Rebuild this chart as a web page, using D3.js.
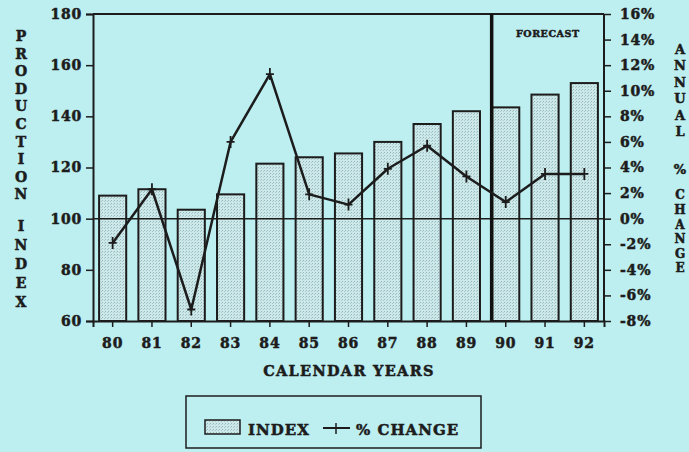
<!DOCTYPE html>
<html>
<head>
<meta charset="utf-8">
<script src="https://cdn.jsdelivr.net/npm/d3@7"></script>
<style>
  body { margin: 0; background: #bdeef0; }
  svg { display: block; }
  text { font-family: "DejaVu Serif", serif; font-weight: bold; fill: #1c1c1c;
         stroke: #1c1c1c; stroke-width: 0.5px; }
</style>
</head>
<body>
<script>
// chart values
var years = ["80", "81", "82", "83", "84", "85", "86", "87", "88", "89", "90", "91", "92"];
var indexValues = [109, 111.5, 103.5, 109.5, 121.5, 124, 125.5, 130, 137, 142, 143.5, 148.5, 153];
var pctChange = [-1.9, 2.3, -7.1, 6.0, 11.3, 1.9, 1.1, 3.9, 5.7, 3.3, 1.3, 3.5, 3.5];
var leftTicks = [60, 80, 100, 120, 140, 160, 180];
var rightTicks = [-8, -6, -4, -2, 0, 2, 4, 6, 8, 10, 12, 14, 16];
var forecastFrom = "90";

var width = 689, height = 452;
var margin = {top: 14, right: 85, bottom: 131, left: 93};
var plotW = width - margin.left - margin.right,
    plotH = height - margin.top - margin.bottom;

var svg = d3.select("body").append("svg")
    .attr("width", width)
    .attr("height", height)
    .style("background", "#bdeef0");

// stipple fill for the bars
var defs = svg.append("defs");
var pat = defs.append("pattern")
    .attr("id", "stip")
    .attr("width", 3).attr("height", 3)
    .attr("patternUnits", "userSpaceOnUse");
pat.append("rect").attr("width", 3).attr("height", 3).attr("fill", "#cde8e9");
pat.append("rect").attr("x", 0).attr("y", 0).attr("width", 1).attr("height", 1).attr("fill", "#93b9bc");
pat.append("rect").attr("x", 2).attr("y", 1).attr("width", 1).attr("height", 1).attr("fill", "#a9c9cb");

var g = svg.append("g")
    .attr("transform", "translate(" + margin.left + "," + margin.top + ")");

var x = d3.scaleBand()
    .domain(years)
    .range([0, plotW])
    .paddingInner(0.31)
    .paddingOuter(0.155);

var y = d3.scaleLinear().domain([60, 180]).range([plotH, 0]);
var y2 = d3.scaleLinear().domain([-8, 16]).range([plotH, 0]);

// bars
g.selectAll("rect.bar")
    .data(years)
    .enter()
    .append("rect")
    .attr("class", "bar")
    .attr("x", function(d) { return x(d); })
    .attr("y", function(d, i) { return y(indexValues[i]); })
    .attr("width", x.bandwidth())
    .attr("height", function(d, i) { return plotH - y(indexValues[i]); })
    .attr("fill", "url(#stip)")
    .attr("stroke", "#1c1c1c")
    .attr("stroke-width", 2);

// zero / 100 reference line
g.append("line")
    .attr("x1", 0).attr("x2", plotW)
    .attr("y1", y(100)).attr("y2", y(100))
    .attr("stroke", "#1c1c1c").attr("stroke-width", 1.5);

// frame: top and right
g.append("line").attr("x1", 0).attr("x2", plotW).attr("y1", 0).attr("y2", 0)
    .attr("stroke", "#1c1c1c").attr("stroke-width", 2);
g.append("line").attr("x1", plotW).attr("x2", plotW).attr("y1", 0).attr("y2", plotH)
    .attr("stroke", "#1c1c1c").attr("stroke-width", 2);

// forecast divider
var fx = x(forecastFrom) - 0.5;
g.append("line")
    .attr("x1", fx).attr("x2", fx)
    .attr("y1", 0).attr("y2", plotH)
    .attr("stroke", "#111").attr("stroke-width", 3.5);
g.append("text")
    .attr("x", (fx + plotW) / 2)
    .attr("y", 23)
    .attr("text-anchor", "middle")
    .style("font-size", "9.5px")
    .style("letter-spacing", "0.6px")
    .text("FORECAST");

// % change line
var line = d3.line()
    .x(function(d, i) { return x(years[i]) + x.bandwidth() / 2; })
    .y(function(d) { return y2(d); });

g.append("path")
    .datum(pctChange)
    .attr("d", line)
    .attr("fill", "none")
    .attr("stroke", "#1c1c1c")
    .attr("stroke-width", 2.5)
    .attr("stroke-linejoin", "round");

g.selectAll("path.mark")
    .data(pctChange)
    .enter()
    .append("path")
    .attr("class", "mark")
    .attr("transform", function(d, i) {
        return "translate(" + (x(years[i]) + x.bandwidth() / 2) + "," + y2(d) + ")";
    })
    .attr("d", "M0,-6V6M-4,0H4")
    .attr("stroke", "#1c1c1c")
    .attr("stroke-width", 1.8);

// axes
var yAxis = d3.axisLeft(y).tickValues(leftTicks).tickSize(7).tickPadding(4);
var ax1 = g.append("g").call(yAxis);

var yAxis2 = d3.axisRight(y2).tickValues(rightTicks).tickSize(7).tickPadding(9)
    .tickFormat(function(d) { return d + "%"; });
var ax2 = g.append("g").attr("transform", "translate(" + plotW + ",0)").call(yAxis2);

var xAxis = d3.axisBottom(x).tickSize(6).tickPadding(11);
var ax3 = g.append("g").attr("transform", "translate(0," + plotH + ")").call(xAxis);

[ax1, ax2, ax3].forEach(function(a) {
    a.select(".domain").attr("stroke", "#1c1c1c").attr("stroke-width", 2);
    a.selectAll(".tick line").attr("stroke", "#1c1c1c").attr("stroke-width", 1.5);
    a.selectAll("text").style("font-size", "14px").attr("fill", "#1c1c1c")
        .style("font-family", "'DejaVu Serif', serif").style("font-weight", "bold")
        .style("letter-spacing", "0.8px");
});
ax2.select(".domain").remove();

// x title
svg.append("text")
    .attr("x", 349)
    .attr("y", 376)
    .attr("text-anchor", "middle")
    .style("font-size", "14.5px")
    .style("letter-spacing", "1.3px")
    .text("CALENDAR YEARS");

// stacked vertical titles
function stacked(str, cx, y0, step, size) {
    svg.append("g").selectAll("text")
        .data(str.split(""))
        .enter()
        .append("text")
        .attr("x", cx)
        .attr("y", function(d, i) { return y0 + i * step; })
        .attr("text-anchor", "middle")
        .attr("dy", "0.36em")
        .style("font-size", size + "px")
        .text(function(d) { return d; });
}
stacked("PRODUCTION", 21, 36, 17.6, 14);
stacked("INDEX", 21, 226, 19, 14);
stacked("ANNUAL", 680, 49, 16.5, 13);
stacked("%", 680, 169, 14, 13);
stacked("CHANGE", 680, 195, 14.6, 12);

// legend
var lg = svg.append("g");
lg.append("rect")
    .attr("x", 186).attr("y", 396)
    .attr("width", 295).attr("height", 52)
    .attr("fill", "none")
    .attr("stroke", "#1c1c1c").attr("stroke-width", 1.5);
lg.append("rect")
    .attr("x", 205).attr("y", 420)
    .attr("width", 35).attr("height", 14)
    .attr("fill", "url(#stip)")
    .attr("stroke", "#1c1c1c").attr("stroke-width", 1.5);
lg.append("text").attr("x", 248).attr("y", 435).style("font-size", "15px")
    .style("letter-spacing", "1px").text("INDEX");
lg.append("line").attr("x1", 323).attr("x2", 350).attr("y1", 428).attr("y2", 428)
    .attr("stroke", "#1c1c1c").attr("stroke-width", 2);
lg.append("path").attr("d", "M336,423V434").attr("stroke", "#1c1c1c").attr("stroke-width", 1.5);
lg.append("text").attr("x", 356).attr("y", 435).style("font-size", "15px")
    .style("letter-spacing", "1px").text("% CHANGE");
</script>
</body>
</html>
